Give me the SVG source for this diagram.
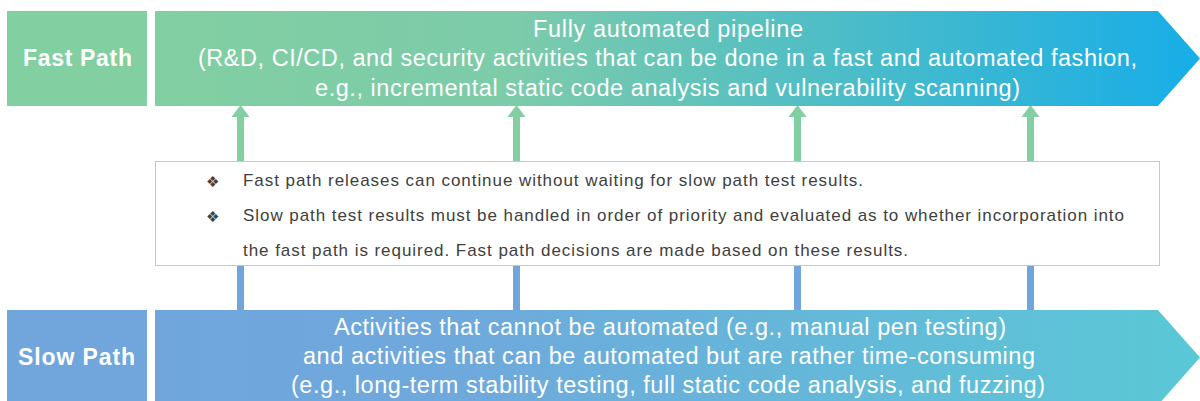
<svg xmlns="http://www.w3.org/2000/svg" width="1200" height="401" viewBox="0 0 1200 401">
<defs>
<linearGradient id="gFast" x1="0" y1="0" x2="1" y2="0">
<stop offset="0" stop-color="#82CFA2"/>
<stop offset="0.35" stop-color="#7CCBAA"/>
<stop offset="1" stop-color="#17ADE8"/>
</linearGradient>
<linearGradient id="gSlow" x1="0" y1="0" x2="1" y2="0">
<stop offset="0" stop-color="#70A6DC"/>
<stop offset="0.3" stop-color="#6EA9DC"/>
<stop offset="1" stop-color="#5AC8D6"/>
</linearGradient>
</defs>
<style>
.lbl{font-family:"Liberation Sans",Arial,sans-serif;font-weight:bold;font-size:23px;fill:#fff;text-anchor:middle}
.main{font-family:"Liberation Sans",Arial,sans-serif;font-size:23.5px;fill:#fff;text-anchor:middle}
.note{font-family:"Liberation Sans",Arial,sans-serif;font-size:17px;fill:#404040}
.bul{font-family:"DejaVu Sans",sans-serif;font-size:15px;fill:#404040}
.up{stroke:#82CFA2;stroke-width:7;fill:none}
.down{stroke:#70A6DC;stroke-width:7;fill:none}
.head{fill:#82CFA2}
</style>
<g id="connectors">
<line class="down" x1="240.5" y1="266" x2="240.5" y2="311"/>
<line class="down" x1="516.5" y1="266" x2="516.5" y2="311"/>
<line class="down" x1="797.5" y1="266" x2="797.5" y2="311"/>
<line class="down" x1="1030.5" y1="266" x2="1030.5" y2="311"/>
<line class="up" x1="240.5" y1="162" x2="240.5" y2="112"/>
<path class="head" d="M231.5,117 L240.5,105 L249.5,117 Z"/>
<line class="up" x1="516.5" y1="162" x2="516.5" y2="112"/>
<path class="head" d="M507.5,117 L516.5,105 L525.5,117 Z"/>
<line class="up" x1="797.5" y1="162" x2="797.5" y2="112"/>
<path class="head" d="M788.5,117 L797.5,105 L806.5,117 Z"/>
<line class="up" x1="1030.5" y1="162" x2="1030.5" y2="112"/>
<path class="head" d="M1021.5,117 L1030.5,105 L1039.5,117 Z"/>
</g>
<g id="fast-label">
<rect x="7" y="11" width="140" height="95" fill="#82CFA2"/>
<text class="lbl" x="77.5" y="66" textLength="109" lengthAdjust="spacing">Fast Path</text>
</g>
<g id="fast-pipeline">
<path d="M155,11 L1158,11 L1200,58.5 L1158,106 L155,106 Z" fill="url(#gFast)"/>
<text class="main" x="668" y="37" textLength="270" lengthAdjust="spacing">Fully automated pipeline</text>
<text class="main" x="667.5" y="66" textLength="939" lengthAdjust="spacing">(R&amp;D, CI/CD, and security activities that can be done in a fast and automated fashion,</text>
<text class="main" x="667.5" y="96" textLength="705" lengthAdjust="spacing">e.g., incremental static code analysis and vulnerability scanning)</text>
</g>
<g id="notes">
<rect x="155.5" y="161.5" width="1004" height="104" fill="#fff" stroke="#C8C8C8" stroke-width="1"/>
<text class="bul" x="206" y="187">❖</text>
<text class="note" x="243" y="186" textLength="620" lengthAdjust="spacing">Fast path releases can continue without waiting for slow path test results.</text>
<text class="bul" x="206" y="222">❖</text>
<text class="note" x="243" y="221" textLength="881" lengthAdjust="spacing">Slow path test results must be handled in order of priority and evaluated as to whether incorporation into</text>
<text class="note" x="243" y="256" textLength="665" lengthAdjust="spacing">the fast path is required. Fast path decisions are made based on these results.</text>
</g>
<g id="slow-label">
<rect x="7" y="310" width="140" height="95" fill="#70A6DC"/>
<text class="lbl" x="76.5" y="365" textLength="117" lengthAdjust="spacing">Slow Path</text>
</g>
<g id="slow-pipeline">
<path d="M155,310 L1158,310 L1200,357.5 L1158,405 L155,405 Z" fill="url(#gSlow)"/>
<text class="main" x="670" y="335" textLength="672" lengthAdjust="spacing">Activities  that cannot be automated (e.g., manual pen testing)</text>
<text class="main" x="669" y="364" textLength="732" lengthAdjust="spacing">and activities that can be automated but are rather time-consuming</text>
<text class="main" x="668" y="393" textLength="754" lengthAdjust="spacing">(e.g., long-term stability testing, full static code analysis, and fuzzing)</text>
</g>
</svg>
